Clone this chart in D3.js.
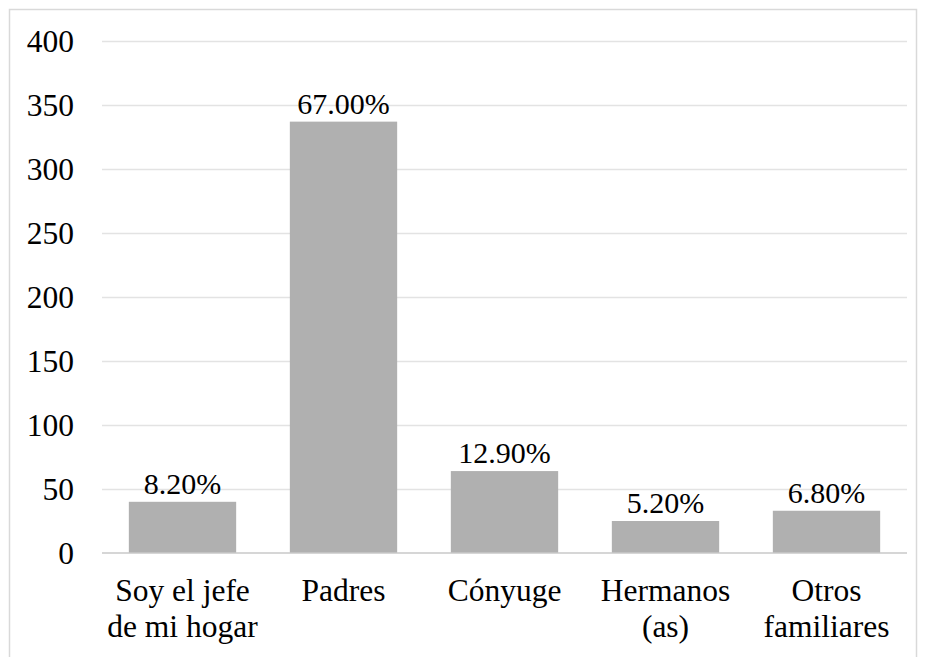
<!DOCTYPE html>
<meta charset="utf-8">
<body style="margin:0; background:#fff">
<svg width="926" height="657"></svg>
<script src="https://cdn.jsdelivr.net/npm/d3@7"></script>
<script>
// data
var categories = [["Soy el jefe", "de mi hogar"], ["Padres"], ["Cónyuge"], ["Hermanos", "(as)"], ["Otros", "familiares"]];
var counts = [40, 337, 64, 25, 33];
var pctLabels = ["8.20%", "67.00%", "12.90%", "5.20%", "6.80%"];
var yTicks = [0, 50, 100, 150, 200, 250, 300, 350, 400];

var svg = d3.select("svg"),
    margin = {top: 41, right: 19, bottom: 104, left: 102},
    width = +svg.attr("width") - margin.left - margin.right,
    height = +svg.attr("height") - margin.top - margin.bottom;

// outer frame
svg.append("rect")
    .attr("x", 9.5).attr("y", 9.5)
    .attr("width", 907).attr("height", 660)
    .attr("fill", "none")
    .attr("stroke", "#d9d9d9")
    .attr("stroke-width", 1.5);

var g = svg.append("g")
    .attr("transform", "translate(" + margin.left + "," + margin.top + ")");

var idx = d3.range(counts.length);

var x = d3.scaleBand()
    .domain(idx)
    .range([0, width])
    .paddingInner(1 / 3)
    .paddingOuter(1 / 6);

var y = d3.scaleLinear()
    .domain([0, 400])
    .range([height, 0]);

// gridlines
g.append("g")
    .selectAll("line")
    .data(yTicks.slice(1))
    .enter().append("line")
    .attr("x1", 0).attr("x2", width)
    .attr("y1", function(d) { return Math.round(y(d)) + 0.5; })
    .attr("y2", function(d) { return Math.round(y(d)) + 0.5; })
    .attr("stroke", "#e3e3e3")
    .attr("stroke-width", 1.3);

// y axis labels
var yAxis = g.append("g")
    .call(d3.axisLeft(y).tickValues(yTicks).tickSize(0).tickPadding(28));
yAxis.attr("font-family", null).attr("font-size", null);
yAxis.select(".domain").remove();
yAxis.selectAll("text")
    .attr("fill", "#000")
    .attr("style", "font-family:'Liberation Serif'; font-size:31.5px");

// bars
g.selectAll(".bar")
    .data(idx)
    .enter().append("rect")
    .attr("class", "bar")
    .attr("x", function(i) { return x(i); })
    .attr("y", function(i) { return y(counts[i]); })
    .attr("width", x.bandwidth())
    .attr("height", function(i) { return y(0) - y(counts[i]); })
    .attr("fill", "#b0b0b0");

// baseline
g.append("line")
    .attr("x1", 0).attr("x2", width)
    .attr("y1", y(0)).attr("y2", y(0))
    .attr("stroke", "#c8c8c8")
    .attr("stroke-width", 1.5);

// value labels
g.selectAll(".lbl")
    .data(idx)
    .enter().append("text")
    .attr("class", "lbl")
    .attr("x", function(i) { return x(i) + x.bandwidth() / 2; })
    .attr("y", function(i) { return y(counts[i]) - 8; })
    .attr("text-anchor", "middle")
    .attr("style", "font-family:'Liberation Serif'; font-size:30px")
    .text(function(i) { return pctLabels[i]; });

// category labels
var cat = g.selectAll(".cat")
    .data(idx)
    .enter().append("text")
    .attr("class", "cat")
    .attr("text-anchor", "middle")
    .attr("style", "font-family:'Liberation Serif'; font-size:31.5px")
    .attr("transform", function(i) { return "translate(" + (x(i) + x.bandwidth() / 2) + "," + (height + 48) + ")"; });

cat.selectAll("tspan")
    .data(function(i) { return categories[i]; })
    .enter().append("tspan")
    .attr("x", 0)
    .attr("y", function(d, j) { return j * 36; })
    .text(function(d) { return d; });
</script>
</body>
